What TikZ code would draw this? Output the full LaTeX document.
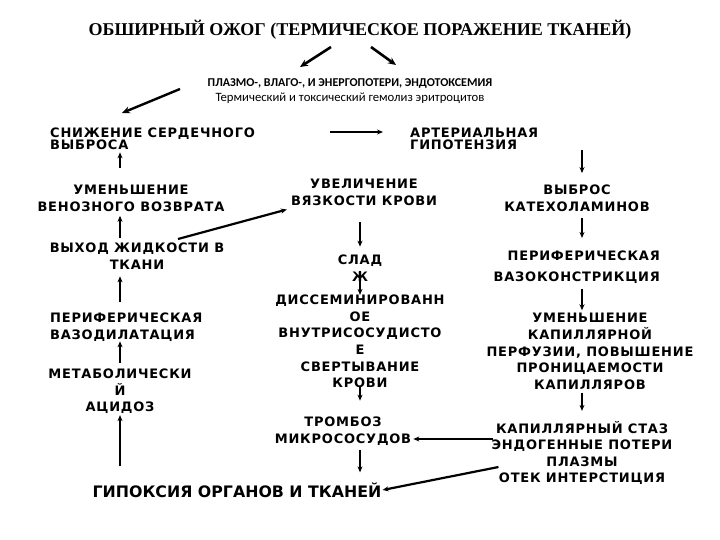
\documentclass[tikz,border=0pt]{standalone}
\usepackage{fontspec}
\usepackage{tikz}
\usetikzlibrary{positioning, arrows.meta, calc}
\newfontfamily\lblfont{DejaVu Sans}[LetterSpace=6]
\newfontfamily\bigfont{DejaVu Sans}
\newfontfamily\ttlfont{Liberation Serif}
\newfontfamily\narrowfont{Carlito}

\begin{document}
\begin{tikzpicture}[
  x=1pt, y=-1pt,
  lbl/.style={inner sep=0pt, align=center,
    font=\lblfont\bfseries\fontsize{13}{16.6}\selectfont},
  arr/.style={-{Stealth[length=6pt,width=5pt]}, line width=1.4pt},
  bigarr/.style={arr, line width=2.6pt, -{Stealth[length=8pt,width=7pt]}},
]
\fill[white] (0,0) rectangle (720,540);
\useasboundingbox (0,0) rectangle (720,540);

% column lines
\coordinate (lcol) at (120,0);
\coordinate (ccol) at (360,0);
\coordinate (rcol) at (582,0);

% Top
\node[inner sep=0pt, font=\ttlfont\bfseries\fontsize{18}{20}\selectfont]
  (burn) at (360,30) {ОБШИРНЫЙ ОЖОГ (ТЕРМИЧЕСКОЕ ПОРАЖЕНИЕ ТКАНЕЙ)};
\node[inner sep=0pt, align=center, font=\narrowfont\fontsize{12}{15.5}\selectfont]
  (loss) at (350,91) {\bfseries ПЛАЗМО-, ВЛАГО-, И ЭНЕРГОПОТЕРИ, ЭНДОТОКСЕМИЯ\\
  \fontsize{12.7}{15.5}\selectfont Термический и токсический гемолиз эритроцитов};

% Left column
\node[lbl, align=left, anchor=west, font=\lblfont\bfseries\fontsize{13}{12.5}\selectfont]
  (cardiac) at (50,139) {СНИЖЕНИЕ СЕРДЕЧНОГО\\ВЫБРОСА};
\node[lbl] (venous) at (131,198.5) {УМЕНЬШЕНИЕ\\ВЕНОЗНОГО ВОЗВРАТА};
\node[lbl] (fluid) at (137,256) {ВЫХОД ЖИДКОСТИ В\\ТКАНИ};
\node[lbl, align=left, anchor=west] (vasodil) at (50,327)
  {ПЕРИФЕРИЧЕСКАЯ\\ВАЗОДИЛАТАЦИЯ};
\node[lbl] (acid) at (120,391.5) {МЕТАБОЛИЧЕСКИ\\Й\\АЦИДОЗ};
\node[inner sep=0pt, font=\bigfont\bfseries\fontsize{15.8}{18}\selectfont]
  (hypoxia) at (237,490) {ГИПОКСИЯ ОРГАНОВ И ТКАНЕЙ};

% Middle column
\node[lbl] (viscosity) at (364,192.5) {УВЕЛИЧЕНИЕ\\ВЯЗКОСТИ КРОВИ};
\node[lbl] (sludge) at (360,268) {СЛАД\\Ж};
\node[lbl] (dic) at (360,341.5) {ДИССЕМИНИРОВАНН\\ОЕ\\ВНУТРИСОСУДИСТО\\Е\\
  СВЕРТЫВАНИЕ\\КРОВИ};
\node[lbl] (thromb) at (343,431) {ТРОМБОЗ\\МИКРОСОСУДОВ};

% Right column
\node[lbl, align=left, anchor=west, font=\lblfont\bfseries\fontsize{13}{12.5}\selectfont]
  (hypot) at (410,139) {АРТЕРИАЛЬНАЯ\\ГИПОТЕНЗИЯ};
\node[lbl] (catechol) at (577,198.5) {ВЫБРОС\\КАТЕХОЛАМИНОВ};
\node[lbl, align=right, anchor=east, font=\lblfont\bfseries\fontsize{13}{21}\selectfont]
  (vasocon) at (660,267.5) {ПЕРИФЕРИЧЕСКАЯ\\ВАЗОКОНСТРИКЦИЯ};
\node[lbl] (perfusion) at (590,351.5) {УМЕНЬШЕНИЕ\\КАПИЛЛЯРНОЙ\\
  ПЕРФУЗИИ, ПОВЫШЕНИЕ\\ПРОНИЦАЕМОСТИ\\КАПИЛЛЯРОВ};
\node[lbl] (stasis) at (582,453) {КАПИЛЛЯРНЫЙ СТАЗ\\ЭНДОГЕННЫЕ ПОТЕРИ\\
  ПЛАЗМЫ\\ОТЕК ИНТЕРСТИЦИЯ};

% Arrows from the top
\draw[bigarr] ($(burn)+(-29,17)$) -- ($(loss)+(-50,-24)$);
\draw[bigarr] ($(burn)+(11,17)$) -- ($(loss)+(46,-26)$);
\draw[arr, line width=2.4pt, -{Stealth[length=8pt,width=7pt]}]
  ($(loss)+(-170,-2)$) -- ($(cardiac.west)+(72,-26)$);
\draw[arr, line width=1.2pt] ($(cardiac.west)+(280,-7)$) -- ($(hypot.west)+(-27,-7)$);

% Left column arrows
\draw[arr] ($(venous.north -| lcol)+(0,-17)$) -- ($(cardiac.south -| lcol)+(0,2)$);
\draw[arr] ($(fluid.north -| lcol)+(0,-5)$) -- ($(venous.south -| lcol)+(0,4)$);
\draw[arr] ($(vasodil.north -| lcol)+(0,-11)$) -- ($(fluid.south -| lcol)+(0,7)$);
\draw[arr] ($(acid.north -| lcol)+(0,-6)$) -- ($(vasodil.south -| lcol)+(0,0)$);
\draw[arr] ($(hypoxia.north -| lcol)+(0,-16)$) -- ($(acid.south -| lcol)+(0,1)$);
\draw[arr, line width=2.2pt] ($(fluid)+(41,-17)$) -- ($(viscosity.west)+(-4,17)$);

% Middle column arrows
\draw[arr] ($(viscosity.south -| ccol)+(0,16)$) -- ($(sludge.north -| ccol)+(0,-8)$);
\draw[arr] ($(sludge.south -| ccol)+(0,-10)$) -- ($(dic.north -| ccol)+(0,0)$);
\draw[arr] ($(dic.south -| ccol)+(0,-2)$) -- ($(thromb.north -| ccol)+(0,-16)$);
\draw[arr] ($(thromb.south -| ccol)+(0,5)$) -- ($(hypoxia.north -| ccol)+(0,-10)$);

% Right column arrows
\draw[arr] ($(hypot.south -| rcol)+(0,0)$) -- ($(catechol.north -| rcol)+(0,-12)$);
\draw[arr] ($(catechol.south -| rcol)+(0,6)$) -- ($(vasocon.north -| rcol)+(0,-13)$);
\draw[arr] ($(vasocon.south -| rcol)+(0,5)$) -- ($(perfusion.north -| rcol)+(0,-3)$);
\draw[arr] ($(perfusion.south -| rcol)+(0,3)$) -- ($(stasis.north -| rcol)+(0,-10)$);
\draw[arr] ($(stasis.west)+(2,-14)$) -- ($(thromb.east)+(2,8)$);
\draw[arr, line width=2.2pt] ($(stasis.west)+(7,14)$) -- ($(hypoxia.east)+(1,0)$);

\end{tikzpicture}
\end{document}
